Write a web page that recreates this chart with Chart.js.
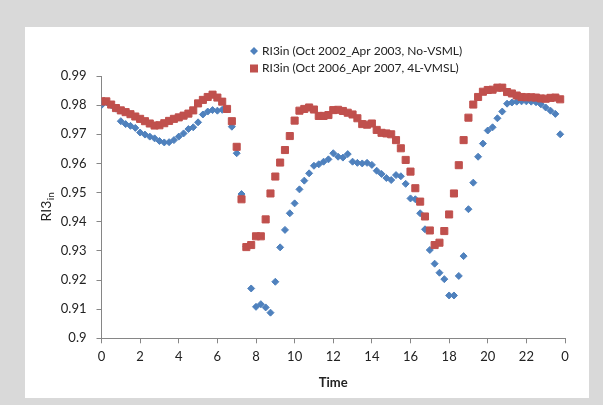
<!DOCTYPE html>
<html>
<head>
<meta charset="utf-8">
<title>RI3in</title>
<script src="https://cdn.jsdelivr.net/npm/chart.js@4.4.1/dist/chart.umd.min.js"></script>
<style>
    html, body { margin: 0; padding: 0; background: #d9d9d9; }
    .panel { position: absolute; left: 25px; top: 27px; width: 564px; height: 371px; background: #fff; }
    canvas { display: block; }
</style>
</head>
<body>
<div class="panel"><canvas id="ri3Chart" width="564" height="371"></canvas></div>
<script>
// time of day (hours), one reading every 15 minutes
const hours = [
    0, 0.25, 0.5, 0.75, 1, 1.25, 1.5, 1.75, 2, 2.25, 2.5, 2.75,
    3, 3.25, 3.5, 3.75, 4, 4.25, 4.5, 4.75, 5, 5.25, 5.5, 5.75,
    6, 6.25, 6.5, 6.75, 7, 7.25, 7.5, 7.75, 8, 8.25, 8.5, 8.75,
    9, 9.25, 9.5, 9.75, 10, 10.25, 10.5, 10.75, 11, 11.25, 11.5, 11.75,
    12, 12.25, 12.5, 12.75, 13, 13.25, 13.5, 13.75, 14, 14.25, 14.5, 14.75,
    15, 15.25, 15.5, 15.75, 16, 16.25, 16.5, 16.75, 17, 17.25, 17.5, 17.75,
    18, 18.25, 18.5, 18.75, 19, 19.25, 19.5, 19.75, 20, 20.25, 20.5, 20.75,
    21, 21.25, 21.5, 21.75, 22, 22.25, 22.5, 22.75, 23, 23.25, 23.5, 23.75
];

// Oct 2002 - Apr 2003, no VSML
const ri3NoVsml = [
    0.9800, 0.9810, 0.9800, 0.9788, 0.9745, 0.9735, 0.9729, 0.9722, 0.9706, 0.9699, 0.9692, 0.9686,
    0.9677, 0.9672, 0.9673, 0.9680, 0.9692, 0.9703, 0.9718, 0.9724, 0.9741, 0.9768, 0.9778, 0.9783,
    0.9781, 0.9784, 0.9785, 0.9726, 0.9635, 0.9495, 0.9315, 0.9171, 0.9108, 0.9117, 0.9106, 0.9088,
    0.9194, 0.9312, 0.9372, 0.9429, 0.9463, 0.9511, 0.9541, 0.9566, 0.9592, 0.9597, 0.9606, 0.9614,
    0.9635, 0.9623, 0.9620, 0.9632, 0.9606, 0.9602, 0.9600, 0.9602, 0.9595, 0.9575, 0.9564, 0.9550,
    0.9543, 0.9560, 0.9556, 0.9530, 0.9480, 0.9477, 0.9429, 0.9374, 0.9303, 0.9256, 0.9225, 0.9203,
    0.9147, 0.9147, 0.9214, 0.9282, 0.9443, 0.9534, 0.9623, 0.9668, 0.9713, 0.9724, 0.9755, 0.9778,
    0.9805, 0.9809, 0.9812, 0.9813, 0.9813, 0.9812, 0.9810, 0.9803, 0.9792, 0.9781, 0.9770, 0.9700
];

// Oct 2006 - Apr 2007, 4L-VMSL
const ri3Vmsl = [
    0.9813, 0.9813, 0.9802, 0.9790, 0.9782, 0.9776, 0.9769, 0.9761, 0.9753, 0.9745, 0.9737, 0.9730,
    0.9731, 0.9738, 0.9746, 0.9753, 0.9758, 0.9764, 0.9771, 0.9782, 0.9806, 0.9818, 0.9828, 0.9836,
    0.9826, 0.9812, 0.9787, 0.9745, 0.9657, 0.9477, 0.9313, 0.9320, 0.9350, 0.9350, 0.9408, 0.9497,
    0.9555, 0.9603, 0.9646, 0.9694, 0.9747, 0.9781, 0.9787, 0.9792, 0.9785, 0.9763, 0.9763, 0.9766,
    0.9783, 0.9784, 0.9780, 0.9774, 0.9768, 0.9755, 0.9735, 0.9733, 0.9737, 0.9715, 0.9705, 0.9703,
    0.9700, 0.9680, 0.9652, 0.9612, 0.9572, 0.9515, 0.9469, 0.9418, 0.9370, 0.9320, 0.9328, 0.9368,
    0.9425, 0.9497, 0.9594, 0.9680, 0.9757, 0.9802, 0.9828, 0.9846, 0.9852, 0.9853, 0.9860, 0.9860,
    0.9845, 0.9840, 0.9833, 0.9828, 0.9827, 0.9827, 0.9826, 0.9823, 0.9822, 0.9825, 0.9826, 0.9820
];

const seriesNames = [
    'RI3in (Oct 2002_Apr 2003, No-VSML)',
    'RI3in (Oct 2006_Apr 2007, 4L-VMSL)'
];

const blue = '#4f81bd';
const red = '#c0504d';
const axisGrey = '#868686';
const textColor = '#222';
const fontFamily = "Lato, 'Open Sans', sans-serif";

const toPoints = values => hours.map((h, i) => ({ x: h, y: values[i] }));

// legend block and the subscripted y title are drawn by hand
const extraText = {
    id: 'extraText',
    afterDraw(chart) {
        const c = chart.ctx;
        c.save();

        // legend
        c.font = '12px ' + fontFamily;
        c.textBaseline = 'middle';
        c.textAlign = 'left';
        const lx = 229, ly = [24, 41.5];

        c.fillStyle = blue;
        c.beginPath();
        c.moveTo(lx - 4, ly[0]);
        c.lineTo(lx, ly[0] - 4);
        c.lineTo(lx + 4, ly[0]);
        c.lineTo(lx, ly[0] + 4);
        c.closePath();
        c.fill();

        c.fillStyle = red;
        c.fillRect(lx - 4, ly[1] - 4, 8, 8);

        c.fillStyle = textColor;
        c.fillText(seriesNames[0], lx + 8, ly[0]);
        c.fillText(seriesNames[1], lx + 8, ly[1]);

        // y axis title: RI3 with "in" subscript
        const area = chart.chartArea;
        c.translate(21, (area.top + area.bottom) / 2);
        c.rotate(-Math.PI / 2);
        c.textBaseline = 'alphabetic';
        c.font = '14px ' + fontFamily;
        const w1 = c.measureText('RI3').width;
        c.font = '10px ' + fontFamily;
        const w2 = c.measureText('in').width;
        const x0 = -(w1 + w2) / 2;
        c.font = '14px ' + fontFamily;
        c.fillText('RI3', x0, 5);
        c.font = '10px ' + fontFamily;
        c.fillText('in', x0 + w1 + 0.5, 8);

        c.restore();
    }
};

const chart = new Chart(document.getElementById('ri3Chart'), {
    type: 'scatter',
    data: {
        datasets: [
            {
                label: seriesNames[0],
                data: toPoints(ri3NoVsml),
                pointStyle: 'rectRot',
                pointRadius: 3.5,
                backgroundColor: blue,
                borderColor: blue,
                borderWidth: 1,
                order: 2
            },
            {
                label: seriesNames[1],
                data: toPoints(ri3Vmsl),
                pointStyle: 'rect',
                pointRadius: 5,
                backgroundColor: red,
                borderColor: red,
                borderWidth: 1,
                order: 1
            }
        ]
    },
    options: {
        responsive: false,
        animation: false,
        devicePixelRatio: 1,
        layout: { padding: { left: 0, top: 49, right: 24, bottom: 0 } },
        plugins: {
            legend: { display: false },
            tooltip: { enabled: false }
        },
        scales: {
            x: {
                type: 'linear',
                min: 0,
                max: 24,
                ticks: {
                    stepSize: 2,
                    padding: 6,
                    color: textColor,
                    font: { family: fontFamily, size: 13 },
                    callback: v => v % 24
                },
                grid: { drawOnChartArea: false, drawTicks: true, tickLength: 5, color: axisGrey },
                border: { color: axisGrey },
                title: {
                    display: true,
                    text: 'Time',
                    color: textColor,
                    font: { family: fontFamily, size: 13, weight: 'bold' },
                    padding: { top: 0, bottom: 7 }
                },
                afterFit: scale => { scale.height = 59.7; }
            },
            y: {
                min: 0.9,
                max: 0.99,
                ticks: {
                    stepSize: 0.01,
                    padding: 10,
                    color: textColor,
                    font: { family: fontFamily, size: 13 },
                    callback: v => String(Number(v.toFixed(2)))
                },
                grid: { drawOnChartArea: false, drawTicks: true, tickLength: 5, color: axisGrey },
                border: { color: axisGrey },
                afterFit: scale => { scale.width = 76.5; }
            }
        }
    },
    plugins: [extraText]
});
</script>
</body>
</html>
